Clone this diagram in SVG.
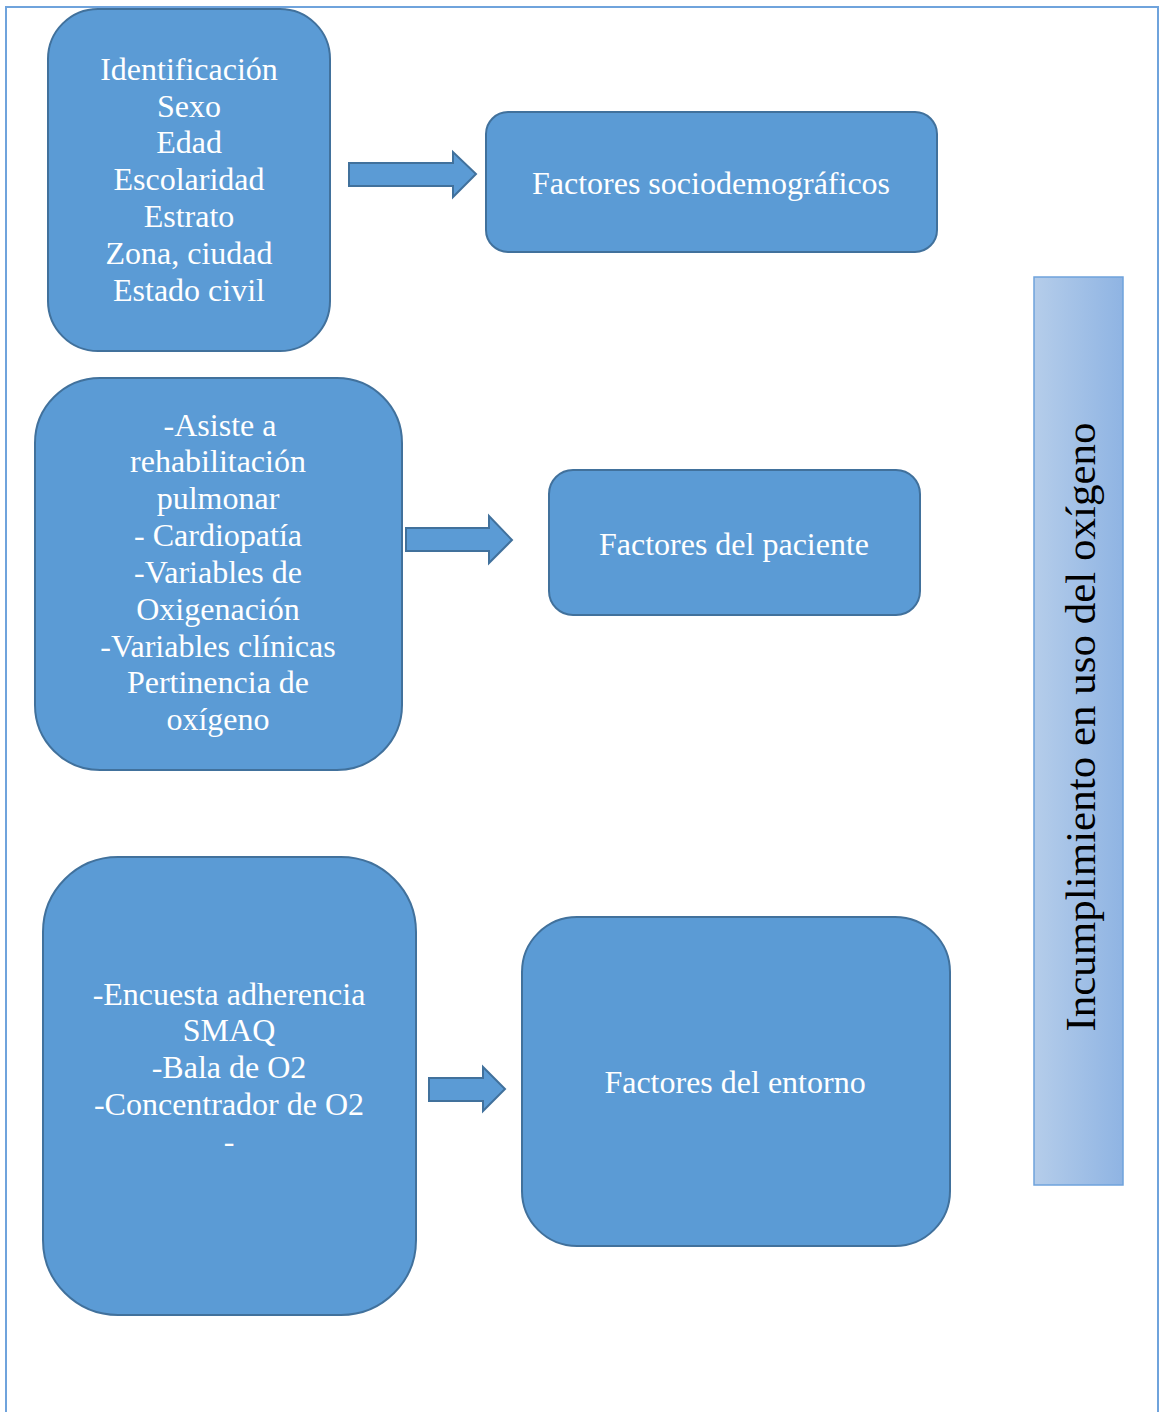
<svg xmlns="http://www.w3.org/2000/svg" width="1160" height="1412" viewBox="0 0 1160 1412">
<defs>
<linearGradient id="barGrad" x1="0" y1="0" x2="1" y2="0">
<stop offset="0" stop-color="#b5cdea"/>
<stop offset="1" stop-color="#8fb4e3"/>
</linearGradient>
<style>
.box{fill:#5b9bd5;stroke:#41719c;stroke-width:2}
.arrow{fill:#5b9bd5;stroke:#41719c;stroke-width:2;stroke-linejoin:miter}
.t{font-family:"Liberation Serif","Times New Roman",serif;font-size:32px;fill:#ffffff;text-anchor:middle}
.v{font-family:"Liberation Serif","Times New Roman",serif;font-size:43px;fill:#000000;text-anchor:middle}
</style>
</defs>
<rect width="1160" height="1412" fill="#ffffff"/>
<path d="M6,1412 V7 H1158 V1412" fill="none" stroke="#6fa3dc" stroke-width="2"/>

<g id="node-identificacion">
<rect class="box" x="48" y="9" width="282" height="342" rx="50" ry="50"/>
<text class="t" x="189" y="80">Identificación</text>
<text class="t" x="189" y="117">Sexo</text>
<text class="t" x="189" y="153">Edad</text>
<text class="t" x="189" y="190">Escolaridad</text>
<text class="t" x="189" y="227">Estrato</text>
<text class="t" x="189" y="264">Zona, ciudad</text>
<text class="t" x="189" y="301">Estado civil</text>
</g>

<g id="node-sociodemograficos">
<rect class="box" x="486" y="112" width="451" height="140" rx="22" ry="22"/>
<text class="t" x="711" y="194">Factores sociodemográficos</text>
</g>

<g id="node-variables-paciente">
<rect class="box" x="35" y="378" width="367" height="392" rx="65" ry="65"/>
<text class="t" x="220" y="436">-Asiste a</text>
<text class="t" x="218" y="472">rehabilitación</text>
<text class="t" x="218" y="509">pulmonar</text>
<text class="t" x="218" y="546">- Cardiopatía</text>
<text class="t" x="218" y="583">-Variables de</text>
<text class="t" x="218" y="620">Oxigenación</text>
<text class="t" x="218" y="657">-Variables clínicas</text>
<text class="t" x="218" y="693">Pertinencia de</text>
<text class="t" x="218" y="730">oxígeno</text>
</g>

<g id="node-paciente">
<rect class="box" x="549" y="470" width="371" height="145" rx="24" ry="24"/>
<text class="t" x="734" y="555">Factores del paciente</text>
</g>

<g id="node-variables-entorno">
<rect class="box" x="43" y="857" width="373" height="458" rx="75" ry="75"/>
<text class="t" x="229" y="1005">-Encuesta adherencia</text>
<text class="t" x="229" y="1041">SMAQ</text>
<text class="t" x="229" y="1078">-Bala de O2</text>
<text class="t" x="229" y="1115">-Concentrador de O2</text>
<text class="t" x="229" y="1152">-</text>
</g>

<g id="node-entorno">
<rect class="box" x="522" y="917" width="428" height="329" rx="55" ry="55"/>
<text class="t" x="735" y="1093">Factores del entorno</text>
</g>

<g id="node-incumplimiento">
<rect x="1034" y="277" width="89" height="908" fill="url(#barGrad)" stroke="#6fa3dc" stroke-width="1.5"/>
<text class="v" transform="translate(1095,727) rotate(-90)" x="0" y="0">Incumplimiento en uso del oxígeno</text>
</g>

<g id="connectors">
<path class="arrow" d="M349,163 H453 V152 L476,174 L453,197 V186 H349 Z"/>
<path class="arrow" d="M406,528 H489 V516 L512,540 L489,563 V551 H406 Z"/>
<path class="arrow" d="M429,1078 H483 V1067 L505,1089 L483,1111 V1101 H429 Z"/>
</g>
</svg>
